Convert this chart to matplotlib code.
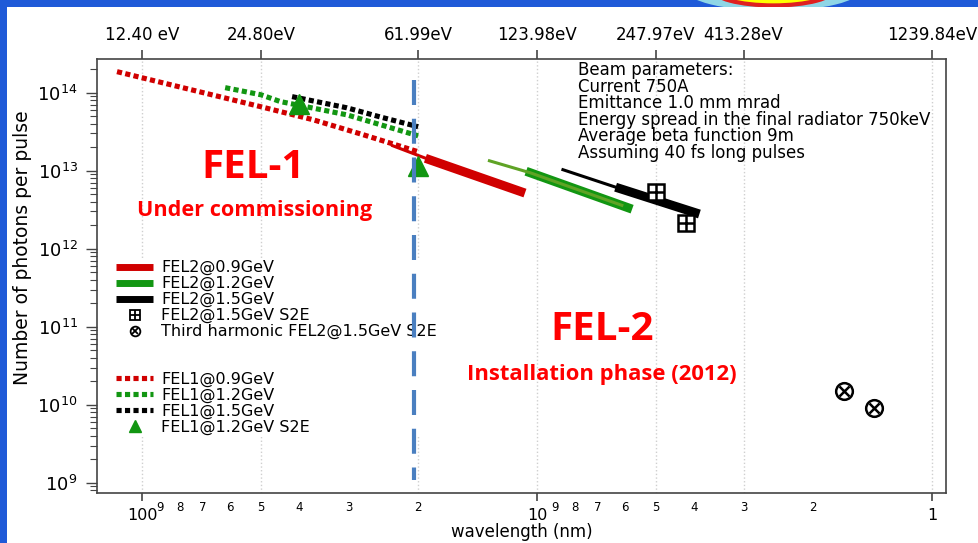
import matplotlib
matplotlib.use("Agg")
import matplotlib.pyplot as plt
from matplotlib.lines import Line2D
from matplotlib.patches import Rectangle, Ellipse
from matplotlib.legend_handler import HandlerTuple
from matplotlib.ticker import FixedLocator, FixedFormatter, LogLocator, NullFormatter, NullLocator

plt.rcParams['font.family'] = 'DejaVu Sans'
plt.rcParams['mathtext.default'] = 'regular'

# FEL-1 expected performance (wavelength in nm, photons per pulse)
fel1_09_wl = [115.7, 50.0, 36.9, 27.6, 20.0]
fel1_09_ph = [1.86e14, 6.6e13, 4.5e13, 2.9e13, 1.75e13]
fel1_12_wl = [61.6, 50.0, 44.7, 30.3, 20.0]
fel1_12_ph = [1.16e14, 9.4e13, 7.7e13, 5.2e13, 2.8e13]
fel1_15_wl = [41.7, 30.3, 25.0, 20.0]
fel1_15_ph = [8.9e13, 6.4e13, 4.9e13, 3.66e13]
fel1_s2e_wl = [40.0, 20.0]
fel1_s2e_ph = [7.2e13, 1.16e13]

# FEL-2: thin leader + main tuning range
fel2_09_lead_wl = [23.2, 18.7]
fel2_09_lead_ph = [2.09e13, 1.38e13]
fel2_09_wl = [18.7, 11.0]
fel2_09_ph = [1.38e13, 5.4e12]
fel2_12_lead_wl = [13.2, 10.4, 6.1]
fel2_12_lead_ph = [1.34e13, 9.4e12, 3.6e12]
fel2_12_wl = [10.4, 5.89]
fel2_12_ph = [9.4e12, 3.36e12]
fel2_15_lead_wl = [8.6, 6.17]
fel2_15_lead_ph = [1.03e13, 5.9e12]
fel2_15_wl = [6.17, 3.98]
fel2_15_ph = [5.9e12, 2.9e12]
fel2_s2e_wl = [5.0, 4.2]
fel2_s2e_ph = [5.4e12, 2.15e12]
harm3_wl = [1.67, 1.40]
harm3_ph = [1.5e10, 9.2e9]

# FEL-1 / FEL-2 boundary
split_wl = [20.5, 20.5]
split_ph = [1.47e14, 1.09e9]

# axis ticks
top_wl = [100, 50, 20, 10, 5, 3, 1]
top_labels = ['12.40 eV', '24.80eV', '61.99eV', '123.98eV', '247.97eV', '413.28eV', '1239.84eV']
bot_major = [100, 10, 1]
bot_major_labels = ['100', '10', '1']
bot_minor = [90, 80, 70, 60, 50, 40, 30, 20, 9, 8, 7, 6, 5, 4, 3, 2]
bot_minor_labels = ['9', '8', '7', '6', '5', '4', '3', '2'] * 2

beam_lines = ['Beam parameters:', 'Current 750A', 'Emittance 1.0 mm mrad',
              'Energy spread in the final radiator 750keV',
              'Average beta function 9m', 'Assuming 40 fs long pulses']

RED = '#d00000'
GREEN = '#129612'
OLIVE = '#5fa325'
BLUE = '#4a7fc0'

fig = plt.figure(figsize=(9.79, 5.43), dpi=100, facecolor='#1f5ad8')
# slide decoration behind the white panel
fig.add_artist(Ellipse((0.79, 1.02), 0.18, 0.08, transform=fig.transFigure,
                       facecolor='#8fd6e6', edgecolor='none', zorder=-4))
fig.add_artist(Ellipse((0.79, 1.02), 0.125, 0.06, transform=fig.transFigure,
                       facecolor='#ffff00', edgecolor='#e02020', lw=3, zorder=-3))
fig.add_artist(Rectangle((7 / 979, 0), 1, 536 / 543, transform=fig.transFigure,
                         facecolor='white', edgecolor='none', zorder=-2))

ax = fig.add_axes([0.0991, 0.0921, 0.8672, 0.7992])
ax.patch.set_alpha(0)
ax.set_xscale('log')
ax.set_yscale('log')
ax.set_xlim(130, 0.922)
ax.set_ylim(7.4e8, 2.7e14)

for w in top_wl:
    ax.axvline(w, color='#cfcfcf', ls=':', lw=1, zorder=0.5)

dots = dict(lw=3.7, dashes=(1, 0.65), dash_capstyle='butt', zorder=3)
ax.plot(fel1_09_wl, fel1_09_ph, color=RED, **dots)
ax.plot(fel1_12_wl, fel1_12_ph, color=GREEN, **dots)
ax.plot(fel1_15_wl, fel1_15_ph, color='black', **dots)
ax.plot(fel1_s2e_wl, fel1_s2e_ph, ls='none', marker='^', ms=14, color=GREEN, zorder=4)

ax.plot(fel2_09_lead_wl, fel2_09_lead_ph, color=RED, lw=2.2, zorder=3)
ax.plot(fel2_09_wl, fel2_09_ph, color=RED, lw=6.5, zorder=3)
ax.plot(fel2_12_wl, fel2_12_ph, color=GREEN, lw=6.5, zorder=3)
ax.plot(fel2_12_lead_wl, fel2_12_lead_ph, color=OLIVE, lw=2.2, zorder=3)
ax.plot(fel2_15_lead_wl, fel2_15_lead_ph, color='black', lw=2.2, zorder=3)
ax.plot(fel2_15_wl, fel2_15_ph, color='black', lw=6.5, zorder=3)

ax.plot(fel2_s2e_wl, fel2_s2e_ph, ls='none', marker='s', ms=12, mfc='white', mec='black', mew=1.8, zorder=4)
ax.plot(fel2_s2e_wl, fel2_s2e_ph, ls='none', marker='+', ms=12, color='black', mew=1.8, zorder=4)
ax.plot(harm3_wl, harm3_ph, ls='none', marker='o', ms=12, mfc='white', mec='black', mew=1.8, zorder=4)
ax.plot(harm3_wl, harm3_ph, ls='none', marker='x', ms=7, color='black', mew=1.8, zorder=4)

ax.plot(split_wl, split_ph, color=BLUE, lw=3, dashes=(6, 3.3), zorder=6)

# axes styling
for s in ax.spines.values():
    s.set_color('#444444')
    s.set_linewidth(1.2)

ax.yaxis.set_major_locator(LogLocator(base=10, numticks=20))
ax.yaxis.set_minor_locator(LogLocator(base=10, subs=range(2, 10), numticks=20))
ax.yaxis.set_minor_formatter(NullFormatter())
ax.tick_params(axis='y', which='major', direction='out', length=8, width=1, labelsize=13, pad=6, color='#444444')
ax.tick_params(axis='y', which='minor', direction='out', length=5, width=0.8, color='#444444')

ax.xaxis.set_major_locator(FixedLocator(bot_major))
ax.xaxis.set_major_formatter(FixedFormatter(bot_major_labels))
ax.xaxis.set_minor_locator(FixedLocator(bot_minor))
ax.xaxis.set_minor_formatter(FixedFormatter(bot_minor_labels))
ax.tick_params(axis='x', which='major', direction='out', length=6, width=1.2, labelsize=11.5, pad=5, color='#444444')
ax.tick_params(axis='x', which='minor', length=0, labelsize=8.5, pad=6)

ax.set_xlabel('wavelength (nm)', fontsize=12)
ax.xaxis.set_label_coords(0.5, -0.070)
ax.set_ylabel('Number of photons per pulse', fontsize=13.5)
ax.yaxis.set_label_coords(-0.077, 0.565)

ax2 = ax.twiny()
ax2.set_xscale('log')
ax2.set_xlim(ax.get_xlim())
ax2.xaxis.set_major_locator(FixedLocator(top_wl))
ax2.xaxis.set_major_formatter(FixedFormatter(top_labels))
ax2.xaxis.set_minor_locator(NullLocator())
ax2.tick_params(axis='x', which='major', direction='out', length=6.5, width=1.2, labelsize=12, pad=4, color='#444444')
for s in ax2.spines.values():
    s.set_visible(False)

# beam parameter notes
for i, line in enumerate(beam_lines):
    ax.text(0.5665, 0.963 - i * 0.038, line, transform=ax.transAxes,
            fontsize=12, va='baseline', ha='left')

red_font = dict(family='Open Sans', weight='bold', color='#ff0000', ha='center', va='center',
                transform=ax.transAxes)
ax.text(0.184, 0.751, 'FEL-1', fontsize=29, **red_font)
ax.text(0.185, 0.652, 'Under commissioning', fontsize=15.6, **red_font)
ax.text(0.595, 0.3756, 'FEL-2', fontsize=29, **red_font)
ax.text(0.594, 0.272, 'Installation phase (2012)', fontsize=15.8, **red_font)

# legend
blank = Line2D([], [], ls='none')
thick = dict(lw=5, solid_capstyle='butt')
handles = [
    Line2D([], [], color=RED, **thick),
    Line2D([], [], color=GREEN, **thick),
    Line2D([], [], color='black', **thick),
    (Line2D([], [], ls='none', marker='s', ms=7, mfc='white', mec='black', mew=1.3),
     Line2D([], [], ls='none', marker='+', ms=7, color='black', mew=1.3)),
    (Line2D([], [], ls='none', marker='o', ms=7, mfc='white', mec='black', mew=1.3),
     Line2D([], [], ls='none', marker='x', ms=4, color='black', mew=1.3)),
    blank, blank,
    Line2D([], [], color=RED, **dots),
    Line2D([], [], color=GREEN, **dots),
    Line2D([], [], color='black', **dots),
    Line2D([], [], ls='none', marker='^', ms=9, color=GREEN),
]
labels = ['FEL2@0.9GeV', 'FEL2@1.2GeV', 'FEL2@1.5GeV', 'FEL2@1.5GeV S2E',
          'Third harmonic FEL2@1.5GeV S2E', ' ', ' ',
          'FEL1@0.9GeV', 'FEL1@1.2GeV', 'FEL1@1.5GeV', 'FEL1@1.2GeV S2E']
leg = ax.legend(handles, labels, handler_map={tuple: HandlerTuple(ndivide=1, pad=0)},
                loc='upper left', bbox_to_anchor=(0.021, 0.54), fontsize=11.5,
                frameon=True, fancybox=False, facecolor='white', edgecolor='none',
                framealpha=1, handlelength=2.3, handletextpad=0.5,
                labelspacing=0.05, borderpad=0.1, borderaxespad=0)
leg.set_zorder(5)

fig.savefig('out.png', dpi=100, facecolor=fig.get_facecolor())
